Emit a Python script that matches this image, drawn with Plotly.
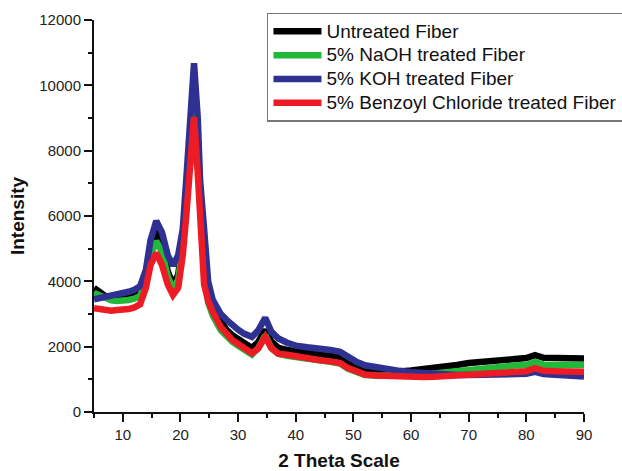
import plotly.graph_objects as go

# 2-theta positions (degrees)
two_theta = [5, 6, 7, 8, 9, 10, 11, 12, 13, 14,
             14.8, 15.8, 16.8, 17.8, 18.7, 19.6, 20.4, 21.0, 21.7, 22.35,
             23.0, 23.4, 24.1, 24.8, 25.6,
             27, 28, 29, 30, 31,
             32.4, 33.5, 34.7, 35.8, 37, 38.5,
             40, 42, 44, 46,
             47.7, 49, 50.6, 52,
             54, 56, 58, 60, 62, 64, 66, 68, 70,
             72, 74, 76, 78, 80,
             81.5, 83, 85, 87, 90]

untreated = [3800, 3650, 3550, 3500, 3480, 3490, 3520, 3570, 3650, 4200,
             5000, 5540, 5150, 4300, 3890, 4200, 5200, 6700, 8600, 9850,
             8300, 6600, 5000, 3700, 3180,
             2750, 2510, 2350, 2230, 2100,
             1960, 2150, 2510, 2150, 1960, 1900,
             1850, 1800, 1760, 1720,
             1680, 1530, 1380, 1300,
             1250, 1230, 1240, 1270, 1300, 1330, 1380, 1440, 1500,
             1540, 1570, 1600, 1620, 1650,
             1740, 1660, 1650, 1650, 1640]

naoh = [3640, 3550, 3480, 3420, 3400, 3400, 3430, 3470, 3550, 4050,
        4800, 5230, 4900, 4150, 3750, 4050, 5100, 6600, 8500, 9800,
        8100, 6400, 4500, 3350, 2950,
        2500, 2300, 2150, 2030, 1900,
        1760, 1950, 2350, 1950, 1780, 1720,
        1670, 1620, 1580, 1540,
        1480, 1330, 1200, 1130,
        1110, 1110, 1120, 1130, 1150, 1180, 1220, 1260, 1300,
        1340, 1370, 1400, 1420, 1440,
        1530, 1450, 1440, 1440, 1440]

koh = [3450, 3480, 3530, 3570, 3600, 3640, 3680, 3740, 3850, 4350,
       5250, 5850, 5500, 4800, 4480, 4800, 5600, 7100, 8800, 10680,
       9000, 7100, 5600, 4000, 3430,
       3000, 2820, 2650, 2520, 2400,
       2300, 2500, 2880, 2450, 2250, 2120,
       2030, 1980, 1950, 1900,
       1840, 1680, 1530, 1430,
       1360, 1300, 1260, 1220, 1190, 1160, 1140, 1130, 1130,
       1140, 1150, 1160, 1160, 1170,
       1230, 1160, 1140, 1110, 1090]

benzoyl = [3180, 3150, 3100, 3100, 3120, 3120, 3150, 3200, 3300, 3800,
           4500, 4870, 4500, 3900, 3580, 3800, 4800, 6000, 7800, 9030,
           7300, 5700, 3900, 3400, 3060,
           2600, 2360, 2200, 2080, 1950,
           1800, 1950, 2300, 1950, 1780, 1750,
           1700, 1640, 1590, 1550,
           1500, 1350, 1220, 1150,
           1120, 1100, 1080, 1070, 1070, 1080, 1100, 1140, 1170,
           1200, 1220, 1230, 1240, 1250,
           1340, 1260, 1250, 1240, 1230]

series_names = ["Untreated Fiber", "5% NaOH treated Fiber",
                "5% KOH treated Fiber", "5% Benzoyl Chloride treated Fiber"]
series_values = [untreated, naoh, koh, benzoyl]
series_colors = ["#000000", "#22b83a", "#2e3192", "#ed1c24"]

FONT = "Liberation Sans, Arial, sans-serif"

fig = go.Figure()
for name, vals, col in zip(series_names, series_values, series_colors):
    fig.add_trace(go.Scatter(
        x=two_theta, y=vals, mode="lines",
        name='<span style="font-size:19px">' + name + '</span>',
        line=dict(color=col, width=6.5)))

axis_common = dict(
    showline=True, linewidth=2, linecolor="#111",
    ticks="outside", ticklen=8, tickwidth=2, tickcolor="#111",
    showgrid=False, zeroline=False, mirror=False,
    tickfont=dict(family=FONT, size=15, color="#222"),
)

fig.update_layout(
    width=622, height=471,
    margin=dict(l=94, r=38, t=20, b=59, autoexpand=False),
    paper_bgcolor="white", plot_bgcolor="white",
    font=dict(family=FONT, color="#111"),
    xaxis=dict(range=[5, 90], tickmode="linear", tick0=10, dtick=10,
               minor=dict(ticks="outside", ticklen=4, tickwidth=2, tickcolor="#111",
                          tick0=5, dtick=5, showgrid=False),
               title=dict(text="<b>2 Theta Scale</b>", font=dict(family=FONT, size=19, color="#111"),
                          standoff=17),
               **axis_common),
    yaxis=dict(range=[0, 12000], tickmode="linear", tick0=0, dtick=2000, tickformat="d",
               minor=dict(ticks="outside", ticklen=4, tickwidth=2, tickcolor="#111",
                          tick0=0, dtick=1000, showgrid=False),
               title=dict(text="<b>Intensity</b>", font=dict(family=FONT, size=19, color="#111"),
                          standoff=10),
               **axis_common),
    legend=dict(x=0.353, y=1.018, xanchor="left", yanchor="top",
                bgcolor="white", bordercolor="#777", borderwidth=1.5,
                font=dict(family=FONT, size=16, color="#111"),
                tracegroupgap=0, itemwidth=48),
    showlegend=True,
)

fig.write_html("out.html")
